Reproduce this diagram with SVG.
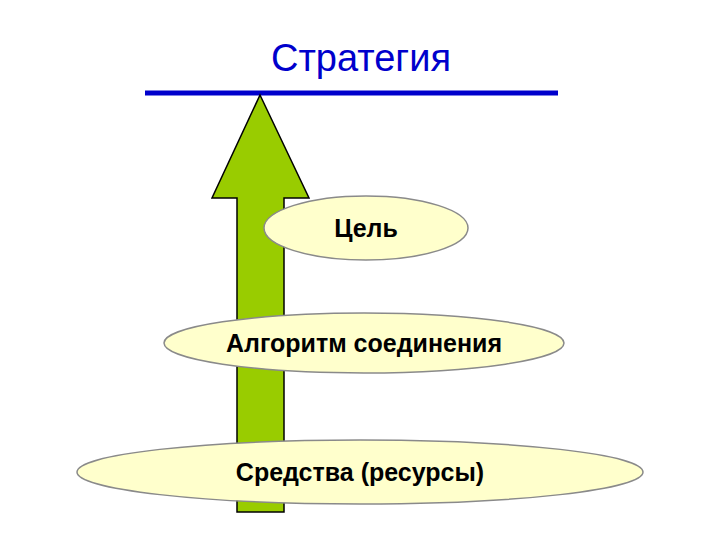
<svg xmlns="http://www.w3.org/2000/svg" width="720" height="540" viewBox="0 0 720 540">
<style>
.n ellipse{fill:#FFFFCC;stroke:#8a8a8a;stroke-width:1.5}
.n text{font-family:"Liberation Sans",Arial,sans-serif;font-weight:bold;font-size:25px;text-anchor:middle;fill:#000}
</style>
<rect width="720" height="540" fill="#fff"/>
<g id="title"><text x="361" y="71" font-family="Liberation Sans,Arial,sans-serif" font-size="38" text-anchor="middle" fill="#0000CC">Стратегия</text>
<line x1="145" y1="93" x2="558" y2="93" stroke="#0000CC" stroke-width="5"/></g>
<g id="connectors"><path d="M260,95 L309,198 L284,198 L284,512 L237,512 L237,198 L212,198 Z" fill="#99CC00" stroke="#000" stroke-width="1.5"/></g>
<g id="goal" class="n"><ellipse cx="366" cy="228" rx="102" ry="32"/><text x="366" y="237">Цель</text></g>
<g id="algo" class="n"><ellipse cx="364" cy="343" rx="200" ry="30"/><text x="364" y="352">Алгоритм соединения</text></g>
<g id="means" class="n"><ellipse cx="360" cy="472" rx="283" ry="32"/><text x="360" y="481">Средства (ресурсы)</text></g>
</svg>
